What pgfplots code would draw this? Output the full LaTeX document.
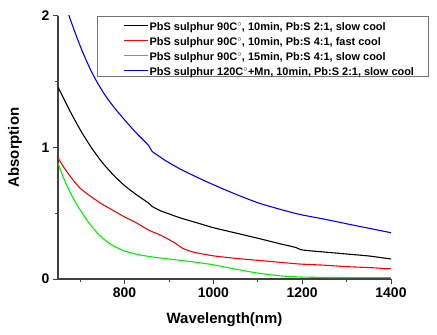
\documentclass[border=0pt]{standalone}
\usepackage{pgfplots}
\pgfplotsset{compat=1.18}
\usepackage{fontspec}
\setmainfont{Liberation Sans}
\definecolor{pgreen}{RGB}{0,240,0}
\begin{document}
\begin{tikzpicture}
\begin{axis}[
 name=ax,
 scale only axis, width=333bp, height=263bp,
 xmin=650, xmax=1400, ymin=0, ymax=2,
 axis x line*=bottom, axis y line*=left,
 axis line style={-, line width=1.2bp, black!75},
 xtick={800,1000,1200,1400}, minor xtick={700,900,1100,1300},
 ytick={0,1,2}, minor ytick={0.5,1.5},
 tick align=outside, major tick length=5bp, minor tick length=3bp,
 tick style={line width=1bp, black!75},
 ticklabel style={font=\fontsize{14}{14}\selectfont\bfseries},
 /pgf/number format/assume math mode=true,
 /pgf/number format/1000 sep={},
 xlabel={Wavelength(nm)}, ylabel={Absorption},
 label style={font=\fontsize{15}{15}\selectfont\bfseries},
 xlabel style={yshift=-8bp},
 ylabel style={yshift=13bp},
 legend cell align=left,
 legend style={at={(rel axis cs:0.116,1.0)}, anchor=north west,
   draw=black!55, line width=0.8bp, inner sep=0bp,
   font=\fontsize{11}{13}\selectfont\bfseries,
   nodes={text height=12.5bp, text depth=0bp, inner ysep=1.25bp, inner xsep=1bp},
   row sep=0bp, column sep=0bp},
 every axis plot post/.append style={
   legend image code/.code={\path[draw=none,fill=none] (-27bp,-2bp) -- (0bp,-2bp); \draw[##1, line width=1.1bp] (0bp,-2bp) -- (24bp,-2bp);}},
 every axis plot/.append style={line width=1.1bp, smooth, tension=0.4},
]
\addplot[black] coordinates {
(650,1.46) (675,1.29) (700,1.135) (725,1.00) (750,0.885) (775,0.79) (800,0.71)
(825,0.645) (855,0.575) (862,0.552) (880,0.52) (900,0.495) (925,0.465) (950,0.44)
(975,0.415) (1000,0.39) (1050,0.35) (1100,0.31) (1150,0.268) (1185,0.24)
(1196,0.224) (1210,0.217) (1250,0.205) (1300,0.19) (1350,0.175) (1400,0.152)};
\addlegendentry{PbS sulphur 90C$^\circ$, 10min, Pb:S 2:1, slow cool\rule{13bp}{0pt}}
\addplot[red] coordinates {
(650,0.92) (665,0.84) (680,0.77) (700,0.69) (725,0.625) (750,0.568) (775,0.52)
(800,0.472) (825,0.43) (850,0.38) (862,0.36) (880,0.335) (900,0.30) (915,0.27)
(930,0.235) (947,0.212) (965,0.197) (985,0.185) (1000,0.176) (1050,0.157)
(1100,0.142) (1150,0.127) (1194,0.114) (1250,0.105) (1300,0.094) (1350,0.087)
(1375,0.082) (1385,0.078) (1400,0.079)};
\addlegendentry{PbS sulphur 90C$^\circ$, 10min, Pb:S 4:1, fast cool\rule{13bp}{0pt}}
\addplot[pgreen] coordinates {
(650,0.88) (660,0.79) (670,0.71) (685,0.61) (700,0.525) (720,0.425) (740,0.345)
(760,0.285) (780,0.243) (800,0.213) (825,0.19) (850,0.174) (875,0.162) (900,0.152)
(950,0.132) (1000,0.108) (1050,0.075) (1100,0.045) (1150,0.024) (1200,0.015)
(1250,0.012) (1300,0.011) (1400,0.01)};
\addlegendentry{PbS sulphur 90C$^\circ$, 15min, Pb:S 4:1, slow cool\rule{13bp}{0pt}}
\addplot[blue] coordinates {
(660,2.15) (675,2.00) (690,1.86) (705,1.73) (720,1.615) (735,1.515) (750,1.43)
(765,1.355) (780,1.29) (800,1.21) (825,1.115) (850,1.03) (856,1.005) (862,0.97)
(875,0.94) (890,0.905) (910,0.865) (930,0.828) (950,0.795) (975,0.755) (1000,0.717)
(1050,0.645) (1100,0.58) (1150,0.53) (1196,0.49) (1250,0.455) (1300,0.42)
(1350,0.386) (1400,0.352)};
\addlegendentry{PbS sulphur 120C$^\circ$+Mn, 10min, Pb:S 2:1, slow cool\rule{13bp}{0pt}}
\end{axis}
\pgfresetboundingbox
\path ([xshift=-58bp,yshift=-56bp]ax.south west) rectangle ([xshift=46bp,yshift=16bp]ax.north east);
\end{tikzpicture}
\end{document}
